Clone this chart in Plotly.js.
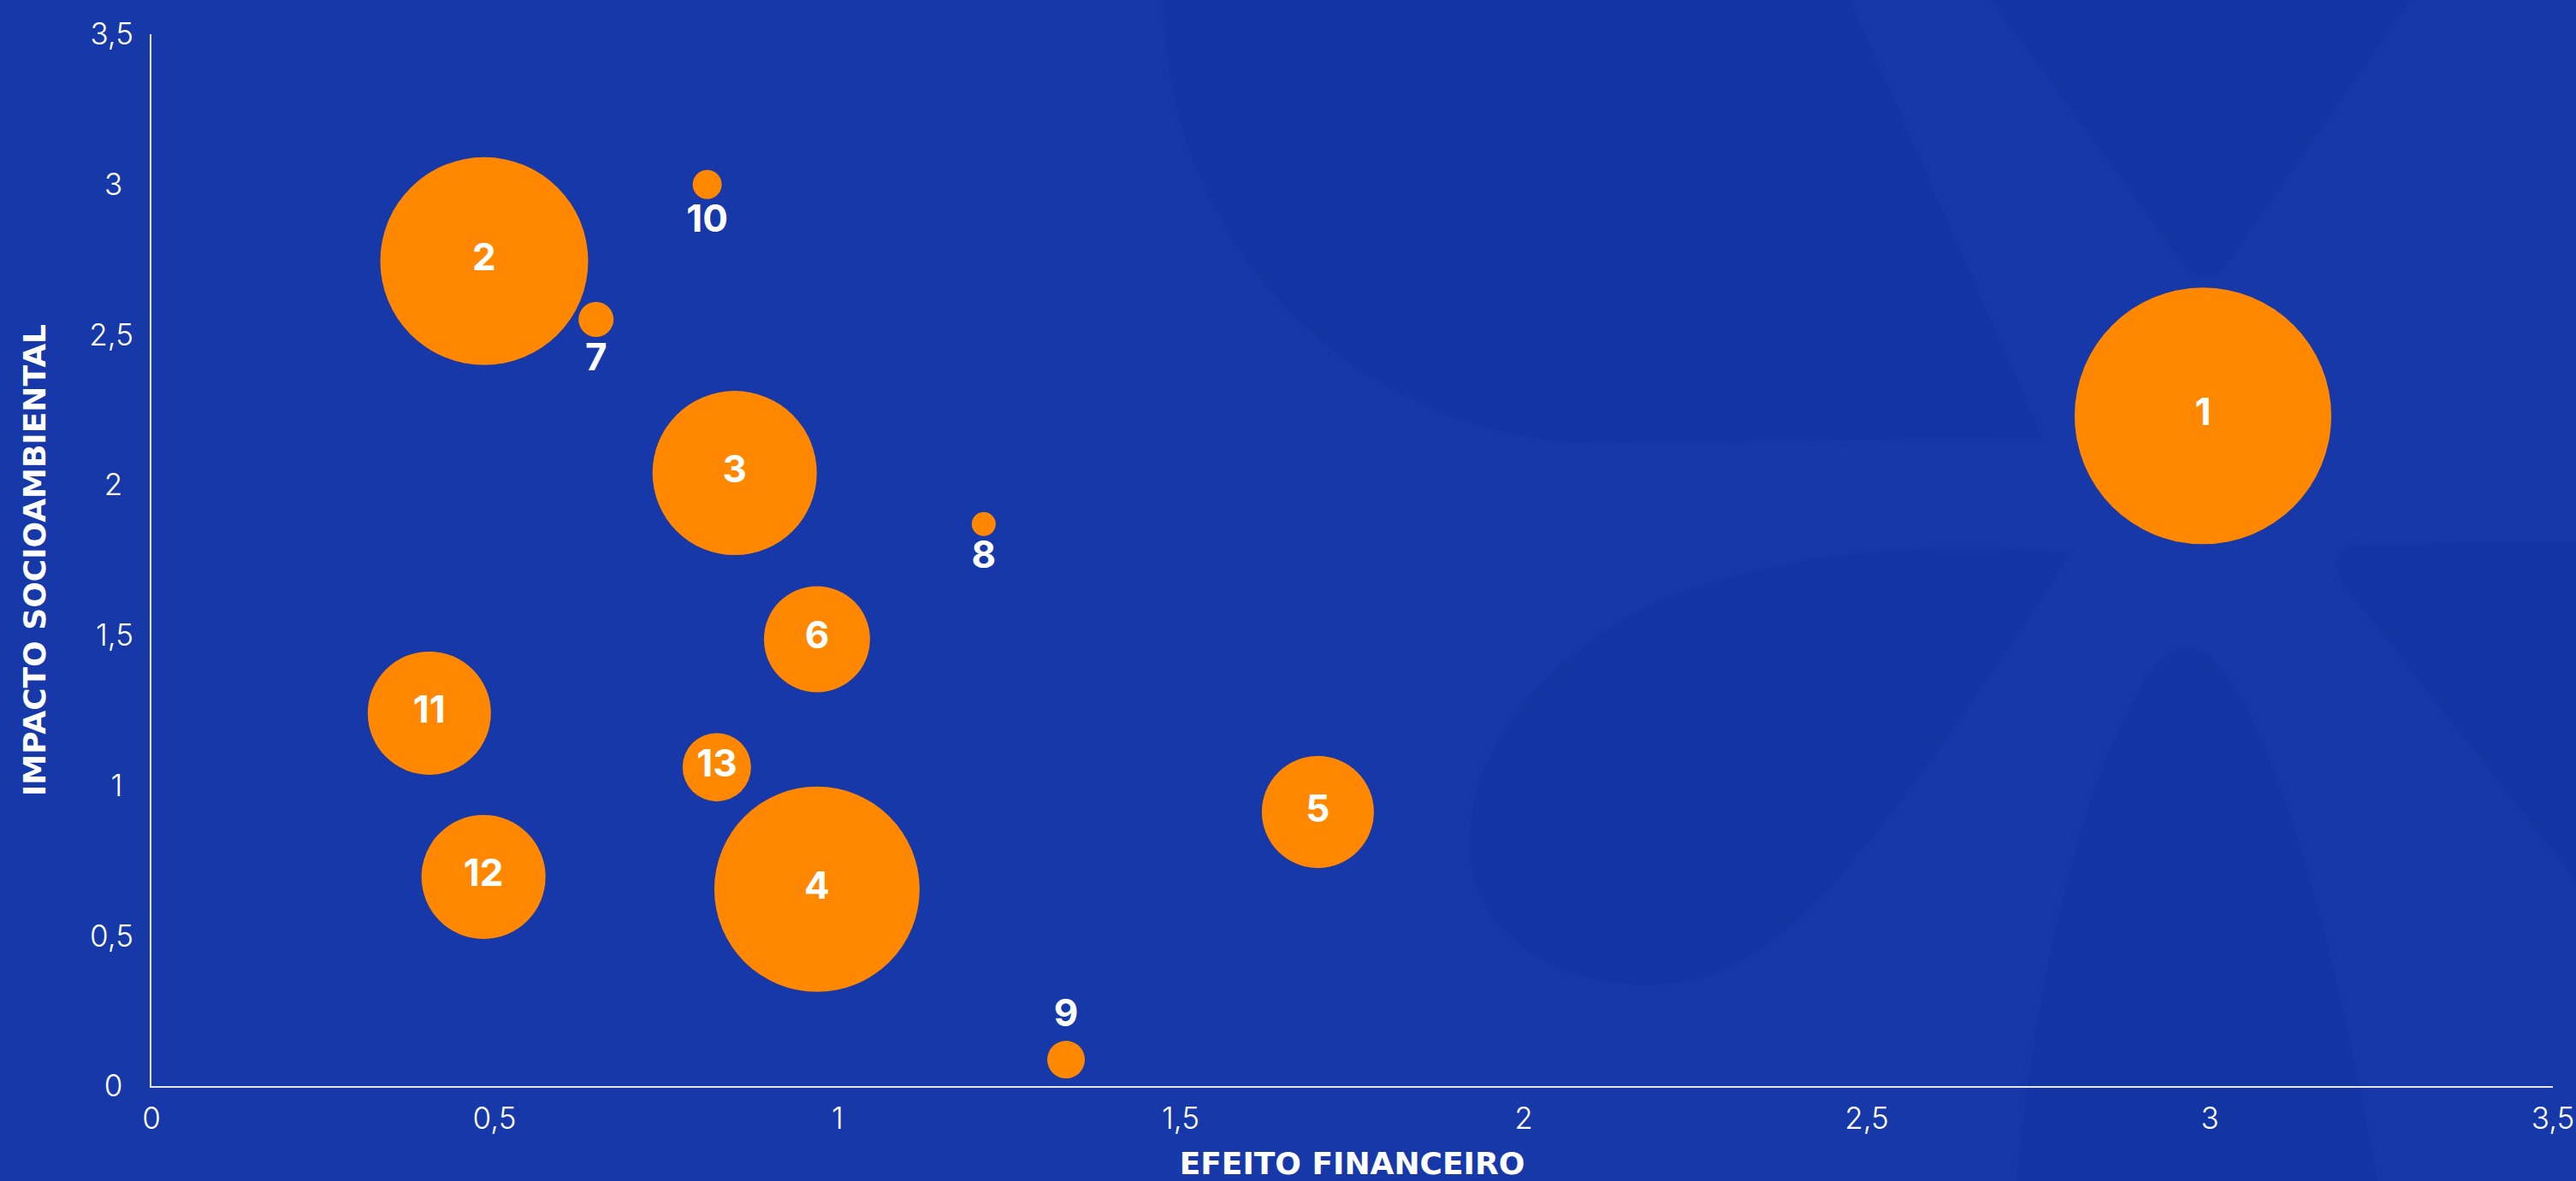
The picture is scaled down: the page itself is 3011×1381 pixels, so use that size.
<!DOCTYPE html>
<html>
<head>
<meta charset="utf-8">
<script src="https://cdn.plot.ly/plotly-3.0.1.min.js"></script>
<style>
  html, body { margin: 0; padding: 0; background: #1638A9; }
  #chart { width: 3011px; height: 1381px; }
</style>
</head>
<body>
<div id="chart"></div>
<script>
// ---- Data ----
const labels = ["1", "2", "3", "4", "5", "6", "7", "8", "9", "10", "11", "12", "13"];
const efeitoFinanceiro = [2.99, 0.485, 0.85, 0.97, 1.70, 0.97, 0.648, 1.213, 1.333, 0.81, 0.405, 0.484, 0.824];
const impactoSocioambiental = [2.23, 2.745, 2.04, 0.655, 0.912, 1.487, 2.551, 1.87, 0.088, 3.0, 1.241, 0.696, 1.061];
const peso = [30.0, 24.3, 19.2, 24.0, 13.1, 12.4, 4.1, 2.8, 4.4, 3.4, 14.4, 14.5, 8.0];
const labelPlacement = ["middle center", "middle center", "middle center", "middle center", "middle center",
  "middle center", "bottom center", "bottom center", "top center", "bottom center",
  "middle center", "middle center", "middle center"];
const tickValues = [0, 0.5, 1, 1.5, 2, 2.5, 3, 3.5];
const tickLabels = ["0", "0,5", "1", "1,5", "2", "2,5", "3", "3,5"];
const xTitle = "EFEITO FINANCEIRO";
const yTitle = "IMPACTO SOCIOAMBIENTAL";

// ---- Layout constants ----
const W = 3011, H = 1381;
const M = { l: 177, r: 27, t: 40, b: 111 };
const BG = "#1638A9";
const PETAL = "#1335A4";
const PETAL_EDGE = "#1537A7";
const ORANGE = "#FF8800";

// decorative background (reference preview pixel space, 1568 wide) -> paper fractions
const S = W / 1568;
function P(x, y) {
  const px = x * S, py = y * S;
  const fx = (px - M.l) / (W - M.l - M.r);
  const fy = 1 - (py - M.t) / (H - M.t - M.b);
  return fx.toFixed(5) + "," + fy.toFixed(5);
}
const petalPaths = [
  `M${P(706,-5)} C${P(706,150)} ${P(820,262)} ${P(960,272)} L${P(1246,268)} L${P(1126,-5)} Z`,
  `M${P(1206,-5)} L${P(1330,165)} Q${P(1342,176)} ${P(1355,165)} L${P(1473,-5)} Z`,
  `M${P(1432,330)} L${P(1575,328)} L${P(1575,548)} L${P(1424,356)} Q${P(1414,334)} ${P(1432,330)} Z`,
  `M${P(1225,725)} C${P(1240,550)} ${P(1292,392)} ${P(1331,392)} C${P(1372,392)} ${P(1420,550)} ${P(1450,725)} Z`,
  `M${P(1262,335)} C${P(1180,325)} ${P(1050,335)} ${P(980,380)} C${P(910,425)} ${P(890,480)} ${P(893,520)} C${P(897,575)} ${P(950,602)} ${P(1005,602)} C${P(1080,600)} ${P(1130,540)} ${P(1262,338)} Z`
];
const shapes = petalPaths.map(p => ({
  type: "path", xref: "paper", yref: "paper", path: p, layer: "below",
  fillcolor: PETAL, line: { width: 8, color: PETAL_EDGE }
}));

// centre y tick labels like the reference (pad integer labels)
const yTickText = tickLabels.map(t => t.includes(",") ? t : t + "\u2009\u2009");

const trace = {
  type: "scatter",
  mode: "markers+text",
  x: efeitoFinanceiro,
  y: impactoSocioambiental,
  text: labels,
  textposition: labelPlacement,
  textfont: { family: "Inter, 'Open Sans', sans-serif", size: 44, color: "#FFFFFF", weight: 700 },
  marker: {
    size: peso,
    sizemode: "diameter",
    sizeref: 0.1,
    color: ORANGE,
    opacity: 1,
    line: { width: 0 }
  },
  hoverinfo: "skip",
  cliponaxis: false,
  showlegend: false
};

const tickFont = { family: "Inter, 'Open Sans', sans-serif", size: 35, color: "#FFFFFF", weight: 300 };
const titleFont = { family: "'DejaVu Sans', Inter, sans-serif", size: 36, color: "#FFFFFF", weight: 700 };

const layout = {
  width: W, height: H,
  margin: M,
  paper_bgcolor: BG,
  plot_bgcolor: "rgba(0,0,0,0)",
  showlegend: false,
  shapes: shapes,
  xaxis: {
    range: [0, 3.5],
    tickmode: "array", tickvals: tickValues, ticktext: tickLabels,
    showgrid: false, zeroline: false,
    showline: true, linecolor: "#E4E7F2", linewidth: 2,
    ticks: "", ticklabelstandoff: 6,
    tickfont: tickFont,
    title: { text: xTitle, font: titleFont, standoff: 30 },
    automargin: false, fixedrange: true
  },
  yaxis: {
    range: [0, 3.5],
    tickmode: "array", tickvals: tickValues, ticktext: yTickText,
    showgrid: false, zeroline: false,
    showline: true, linecolor: "#E4E7F2", linewidth: 2,
    ticks: "", ticklabelstandoff: 12,
    tickfont: tickFont,
    title: { text: yTitle, font: titleFont, standoff: 40 },
    automargin: false, fixedrange: true
  }
};

Plotly.newPlot("chart", [trace], layout, { staticPlot: true, displayModeBar: false });
</script>
</body>
</html>
